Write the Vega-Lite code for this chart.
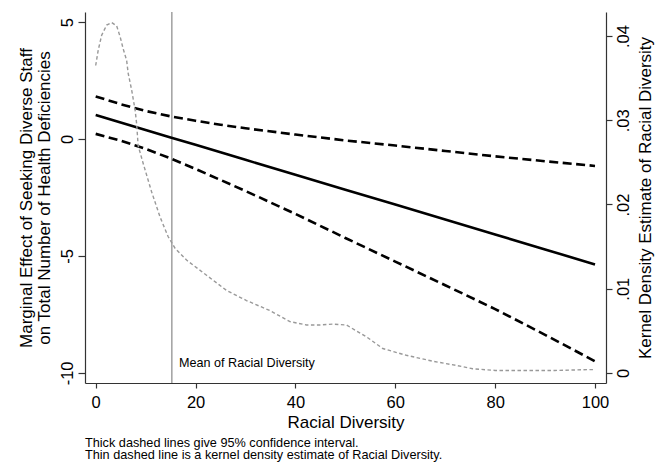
{
  "$schema": "https://vega.github.io/schema/vega-lite/v6.json",
  "width": 521,
  "height": 371,
  "autosize": {"type": "none"},
  "padding": {"left": 85, "top": 12, "right": 64, "bottom": 79},
  "background": "white",
  "config": {
    "view": {"stroke": null},
    "font": "Liberation Sans",
    "axis": {
      "grid": false,
      "domainColor": "#333333",
      "tickColor": "#333333",
      "labelColor": "black",
      "titleColor": "black",
      "labelFont": "Liberation Sans",
      "titleFont": "Liberation Sans",
      "labelFontSize": 16.5,
      "titleFontSize": 17,
      "titleFontWeight": "normal",
      "domainWidth": 1.2,
      "tickWidth": 1.2
    }
  },
  "title": {
    "text": ["Thick dashed lines give 95% confidence interval.", "Thin dashed line is a kernel density estimate of Racial Diversity."],
    "orient": "bottom",
    "anchor": "start",
    "frame": "group",
    "font": "Liberation Sans",
    "fontSize": 12.7,
    "fontWeight": "normal",
    "lineHeight": 12.8,
    "offset": 6,
    "color": "black"
  },
  "datasets": {
    "me": [
      {"x": 0, "est": 1.03, "lo": 0.22, "hi": 1.82},
      {"x": 5, "est": 0.71, "lo": -0.07, "hi": 1.49},
      {"x": 10, "est": 0.39, "lo": -0.42, "hi": 1.2},
      {"x": 15, "est": 0.07, "lo": -0.83, "hi": 0.97},
      {"x": 20, "est": -0.25, "lo": -1.28, "hi": 0.78},
      {"x": 25, "est": -0.57, "lo": -1.75, "hi": 0.61},
      {"x": 30, "est": -0.89, "lo": -2.22, "hi": 0.46},
      {"x": 40, "est": -1.53, "lo": -3.2, "hi": 0.19},
      {"x": 50, "est": -2.17, "lo": -4.23, "hi": -0.06},
      {"x": 60, "est": -2.8, "lo": -5.24, "hi": -0.28},
      {"x": 70, "est": -3.44, "lo": -6.25, "hi": -0.51},
      {"x": 80, "est": -4.08, "lo": -7.27, "hi": -0.74},
      {"x": 90, "est": -4.72, "lo": -8.37, "hi": -0.95},
      {"x": 100, "est": -5.36, "lo": -9.5, "hi": -1.15}
    ],
    "dens": [
      {"x": 0, "d": 0.0365},
      {"x": 0.5, "d": 0.0383},
      {"x": 1.2, "d": 0.0401},
      {"x": 2.2, "d": 0.0413},
      {"x": 3.2, "d": 0.0416},
      {"x": 4.2, "d": 0.0412},
      {"x": 4.9, "d": 0.0399},
      {"x": 5.5, "d": 0.0385},
      {"x": 6.2, "d": 0.0371},
      {"x": 6.5, "d": 0.0356},
      {"x": 7.2, "d": 0.0336},
      {"x": 7.9, "d": 0.0312},
      {"x": 8.2, "d": 0.0296},
      {"x": 8.5, "d": 0.027},
      {"x": 9.5, "d": 0.0249},
      {"x": 11.2, "d": 0.0215},
      {"x": 12.9, "d": 0.0185},
      {"x": 14.5, "d": 0.0162},
      {"x": 15.9, "d": 0.0148},
      {"x": 18.2, "d": 0.0134},
      {"x": 22.2, "d": 0.0116},
      {"x": 26.2, "d": 0.0098},
      {"x": 30.2, "d": 0.0086},
      {"x": 34.9, "d": 0.0074},
      {"x": 38.9, "d": 0.0061},
      {"x": 42.2, "d": 0.0057},
      {"x": 45, "d": 0.0057},
      {"x": 47.5, "d": 0.0058},
      {"x": 50.2, "d": 0.0057},
      {"x": 54.2, "d": 0.0043},
      {"x": 57.5, "d": 0.0029},
      {"x": 62.2, "d": 0.0021},
      {"x": 67.5, "d": 0.0014},
      {"x": 72.2, "d": 0.0009},
      {"x": 75.5, "d": 0.0005},
      {"x": 80, "d": 0.0003},
      {"x": 85.5, "d": 0.0003},
      {"x": 92, "d": 0.0003},
      {"x": 98.9, "d": 0.0004},
      {"x": 100, "d": 0.0004}
    ],
    "mean": [{"x": 15.25, "lx": 16.7, "ly": -9.57, "label": "Mean of Racial Diversity"}]
  },
  "layer": [
    {
      "layer": [
        {
          "data": {"name": "mean"},
          "mark": {"type": "rule", "color": "#a0a0a0", "strokeWidth": 1.5},
          "encoding": {
            "x": {"field": "x", "type": "quantitative"}
          }
        },
        {
          "data": {"name": "me"},
          "mark": {"type": "line", "color": "black", "strokeWidth": 2.6, "strokeDash": [9, 4.5]},
          "encoding": {
            "x": {"field": "x", "type": "quantitative"},
            "y": {"field": "lo", "type": "quantitative"}
          }
        },
        {
          "data": {"name": "me"},
          "mark": {"type": "line", "color": "black", "strokeWidth": 2.6, "strokeDash": [9, 4.5]},
          "encoding": {
            "x": {"field": "x", "type": "quantitative"},
            "y": {"field": "hi", "type": "quantitative"}
          }
        },
        {
          "data": {"name": "me"},
          "mark": {"type": "line", "color": "black", "strokeWidth": 2.6},
          "encoding": {
            "x": {
              "field": "x", "type": "quantitative",
              "scale": {"domain": [-2.14, 102.2], "nice": false, "zero": false},
              "axis": {
                "title": "Racial Diversity",
                "values": [0, 20, 40, 60, 80, 100],
                "tickSize": 5,
                "labelPadding": 6,
                "titlePadding": 4,
                "labelFlush": false,
                "labelOverlap": false
              }
            },
            "y": {
              "field": "est", "type": "quantitative",
              "scale": {"domain": [-10.43, 5.43], "nice": false, "zero": false},
              "axis": {
                "orient": "left",
                "title": ["Marginal Effect of Seeking Diverse Staff", "on Total Number of Health Deficiencies"],
                "titleLineHeight": 18,
                "values": [-10, -5, 0, 5],
                "labelExpr": "'' + datum.value",
                "labelAngle": 270,
                "labelAlign": "center",
                "labelBaseline": "bottom",
                "tickSize": 7,
                "labelPadding": 3,
                "titlePadding": 6,
                "labelFlush": false,
                "labelOverlap": false
              }
            }
          }
        },
        {
          "data": {"name": "mean"},
          "mark": {"type": "text", "align": "left", "baseline": "middle", "fontSize": 12.6, "color": "black", "font": "Liberation Sans"},
          "encoding": {
            "x": {"field": "lx", "type": "quantitative"},
            "y": {"field": "ly", "type": "quantitative"},
            "text": {"field": "label"}
          }
        }
      ]
    },
    {
      "data": {"name": "dens"},
      "mark": {"type": "line", "color": "#999999", "strokeWidth": 1.4, "strokeDash": [3.5, 2.5]},
      "encoding": {
        "x": {"field": "x", "type": "quantitative"},
        "y": {
          "field": "d", "type": "quantitative",
          "scale": {"domain": [-0.00119, 0.04285], "nice": false, "zero": false},
          "axis": {
            "orient": "right",
            "title": "Kernel Density Estimate of Racial Diversity",
            "values": [0, 0.01, 0.02, 0.03, 0.04],
            "labelExpr": "datum.value == 0 ? '0' : replace(format(datum.value, '.2f'), '0.', '.')",
            "labelAngle": 270,
            "labelAlign": "center",
            "labelBaseline": "top",
            "titleAngle": 270,
            "titleBaseline": "top",
            "tickSize": 6,
            "labelPadding": 3,
            "titlePadding": 6,
            "labelFlush": false,
            "labelOverlap": false
          }
        }
      }
    }
  ],
  "resolve": {"scale": {"y": "independent"}}
}
